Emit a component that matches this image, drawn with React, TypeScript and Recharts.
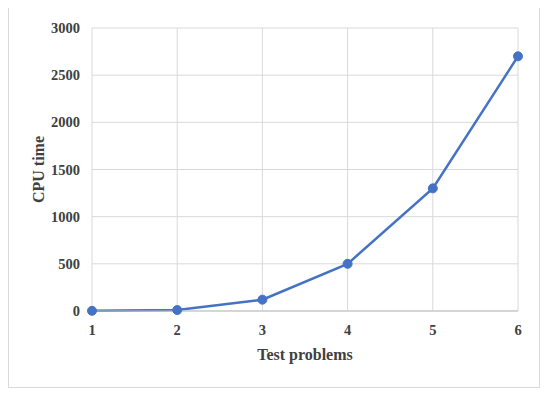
import React from "react";
import { LineChart, Line, XAxis, YAxis, CartesianGrid } from "recharts";

const problems = ["1", "2", "3", "4", "5", "6"];
const cpuTimes = [2, 10, 120, 500, 1300, 2700];
const yTicks = [0, 500, 1000, 1500, 2000, 2500, 3000];

const data = problems.map((p, i) => ({ problem: p, cpu: cpuTimes[i] }));

const FONT = '"Liberation Serif", "Times New Roman", serif';
const TEXT = "#404040";

const XLabel = (props: any) => {
  const vb = props.viewBox || {};
  return (
    <text
      x={vb.x + vb.width / 2}
      y={vb.y + 43}
      textAnchor="middle"
      dominantBaseline="central"
      fontFamily={FONT}
      fontWeight="bold"
      fontSize={16}
      fill={TEXT}
    >
      Test problems
    </text>
  );
};

const YLabel = (props: any) => {
  const vb = props.viewBox || {};
  const cx = vb.x + 29;
  const cy = vb.y + vb.height / 2;
  return (
    <text
      x={cx}
      y={cy}
      textAnchor="middle"
      dominantBaseline="central"
      transform={`rotate(-90, ${cx}, ${cy})`}
      fontFamily={FONT}
      fontWeight="bold"
      fontSize={16}
      fill={TEXT}
    >
      CPU time
    </text>
  );
};

export default function App() {
  return (
    <div
      style={{
        width: 532,
        height: 381,
        border: "1px solid #d9d9d9",
        boxSizing: "border-box",
        marginTop: -1,
        background: "#fff",
      }}
    >
      <LineChart
        width={530}
        height={379}
        data={data}
        margin={{ top: 20, right: 21, left: 0, bottom: 0 }}
      >
        <CartesianGrid stroke="#d9d9d9" strokeWidth={1} />
        <XAxis
          dataKey="problem"
          height={76}
          axisLine={{ stroke: "#bfbfbf", strokeWidth: 1 }}
          tickLine={false}
          tickSize={6}
          tickMargin={8}
          tick={{ fontFamily: FONT, fontWeight: "bold", fontSize: 14.5, fill: TEXT }}
          label={<XLabel />}
        />
        <YAxis
          width={83}
          domain={[0, 3000]}
          ticks={yTicks}
          axisLine={false}
          tickLine={false}
          tickSize={6}
          tickMargin={6}
          tick={{ fontFamily: FONT, fontWeight: "bold", fontSize: 14.5, fill: TEXT }}
          label={<YLabel />}
        />
        <Line
          type="linear"
          dataKey="cpu"
          stroke="#4472C4"
          strokeWidth={2.5}
          dot={{ r: 4.5, fill: "#4472C4", stroke: "#4472C4", strokeWidth: 1 }}
          isAnimationActive={false}
        />
      </LineChart>
    </div>
  );
}
